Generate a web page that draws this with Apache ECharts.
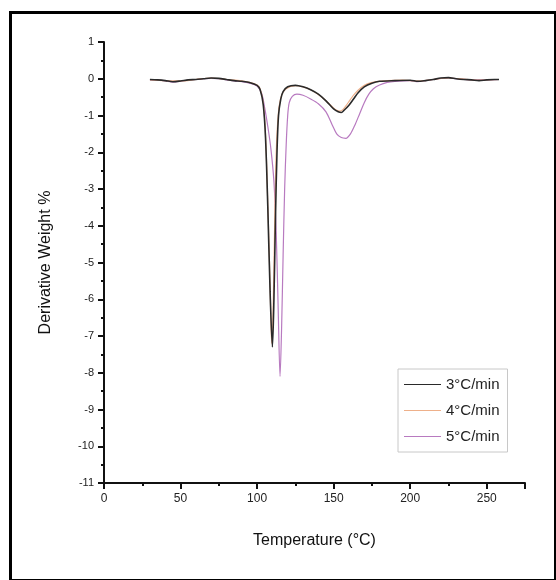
<!DOCTYPE html>
<html>
<head>
<meta charset="utf-8">
<script src="https://cdn.jsdelivr.net/npm/echarts@6/dist/echarts.min.js"></script>
<style>html,body{margin:0;padding:0;background:#fff;}#c{width:556px;height:580px;}</style>
</head>
<body>
<div id="c"></div>
<script>
// Series names
var seriesNames = ['3°C/min', '4°C/min', '5°C/min'];
// Temperature (°C) and derivative weight (%) per heating rate
var temp3 = [30,35,40,45,50,55,60,65,70,75,80,85,90,95,100,102,104,105.5,107,108.5,110,111,112,113,114,115.5,117,120,125,130,135,140,145,150,153,155,157,160,163,166,170,175,180,190,200,205,210,215,220,225,230,235,240,245,250,255,258];
var dw3   = [-0.02,-0.03,-0.05,-0.08,-0.06,-0.03,-0.02,0.0,0.02,0.01,-0.02,-0.05,-0.07,-0.1,-0.18,-0.3,-0.7,-1.6,-3.5,-5.8,-7.3,-6.0,-3.8,-2.0,-1.0,-0.55,-0.35,-0.22,-0.18,-0.22,-0.3,-0.42,-0.6,-0.82,-0.9,-0.92,-0.85,-0.72,-0.55,-0.38,-0.22,-0.12,-0.07,-0.05,-0.04,-0.07,-0.05,-0.02,0.02,0.03,0.0,-0.02,-0.03,-0.05,-0.03,-0.02,-0.02];
var temp4 = [30,40,50,60,70,80,90,95,100,102,104,105.5,107,108.5,109.5,110.5,111.5,112.5,114,116,119,125,130,135,140,145,150,152,154,156,158,161,164,168,172,178,185,195,205,215,225,235,245,258];
var dw4   = [-0.03,-0.05,-0.06,-0.02,0.02,-0.02,-0.06,-0.1,-0.17,-0.28,-0.65,-1.5,-3.4,-5.6,-7.2,-6.2,-3.9,-2.0,-0.9,-0.45,-0.27,-0.19,-0.22,-0.3,-0.43,-0.6,-0.8,-0.86,-0.88,-0.84,-0.74,-0.56,-0.4,-0.24,-0.14,-0.08,-0.05,-0.04,-0.06,-0.02,0.02,-0.01,-0.04,-0.02];
var temp5 = [30,35,40,45,50,55,60,65,70,75,80,85,90,95,100,103,105,107,109,111,112.5,113.8,115,116,117,118,119,120,121,123,126,130,135,140,145,149,152,155,158,161,164,167,170,173,176,180,185,190,200,205,210,215,220,225,230,240,250,258];
var dw5   = [-0.03,-0.04,-0.06,-0.09,-0.07,-0.04,-0.02,0.0,0.01,0.0,-0.03,-0.06,-0.08,-0.12,-0.2,-0.4,-0.8,-1.3,-1.9,-2.8,-4.2,-6.3,-8.1,-6.8,-4.8,-3.0,-1.8,-1.0,-0.65,-0.48,-0.42,-0.45,-0.55,-0.68,-0.9,-1.25,-1.5,-1.6,-1.62,-1.5,-1.25,-0.95,-0.65,-0.42,-0.27,-0.17,-0.1,-0.07,-0.05,-0.08,-0.05,-0.02,0.01,0.02,0.0,-0.03,-0.03,-0.02];

function pairs(xs, ys) { return xs.map(function (x, i) { return [x, ys[i]]; }); }

var colors = ['#2a2a2a', '#eeb08a', '#b87ac0'];
var chart = echarts.init(document.getElementById('c'), null, { renderer: 'canvas' });
var font = 'Liberation Sans, Arial, sans-serif';
chart.setOption({
  animation: false,
  backgroundColor: '#fff',
  color: colors,
  grid: { left: 104, top: 42, right: 31, bottom: 97 },
  graphic: [{
    type: 'rect', left: 8, top: 10, silent: true,
    shape: { width: 545, height: 568 },
    style: { fill: 'none', stroke: '#000', lineWidth: 3 }
  }],
  legend: {
    orient: 'vertical', left: 398, top: 369,
    width: 113,
    padding: [8, 8, 8, 6],
    itemGap: 11,
    itemWidth: 37, itemHeight: 1.2,
    icon: 'rect',
    borderColor: '#c8c8c8', borderWidth: 1,
    textStyle: { fontFamily: font, fontSize: 15, color: '#222' },
    data: seriesNames
  },
  xAxis: {
    type: 'value', min: 0, max: 275, interval: 50,
    name: 'Temperature (°C)', nameLocation: 'middle', nameGap: 50,
    nameTextStyle: { fontFamily: font, fontSize: 16, color: '#111' },
    axisLine: { onZero: false, lineStyle: { color: '#111', width: 2 } },
    axisTick: { show: true, length: 6, lineStyle: { color: '#111', width: 2 } },
    minorTick: { show: true, splitNumber: 2, length: 3, lineStyle: { color: '#111', width: 2 } },
    axisLabel: { fontFamily: font, fontSize: 12, color: '#222', margin: 10, showMaxLabel: false },
    splitLine: { show: false }
  },
  yAxis: {
    type: 'value', min: -11, max: 1, interval: 1,
    name: 'Derivative Weight %', nameLocation: 'middle', nameGap: 50,
    nameTextStyle: { fontFamily: font, fontSize: 16, color: '#111' },
    axisLine: { show: true, onZero: false, lineStyle: { color: '#111', width: 2 } },
    axisTick: { show: true, length: 6, lineStyle: { color: '#111', width: 2 } },
    minorTick: { show: true, splitNumber: 2, length: 3, lineStyle: { color: '#111', width: 2 } },
    axisLabel: { fontFamily: font, fontSize: 11, color: '#222', margin: 10 },
    splitLine: { show: false }
  },
  series: [
    { name: seriesNames[0], type: 'line', symbol: 'none', smooth: 0.3, data: pairs(temp3, dw3), lineStyle: { width: 1.6, color: colors[0] }, z: 4 },
    { name: seriesNames[1], type: 'line', symbol: 'none', smooth: 0.3, data: pairs(temp4, dw4), lineStyle: { width: 1.2, color: colors[1] }, z: 3 },
    { name: seriesNames[2], type: 'line', symbol: 'none', smooth: 0.3, data: pairs(temp5, dw5), lineStyle: { width: 1.2, color: colors[2] }, z: 2 }
  ]
});
</script>
</body>
</html>
